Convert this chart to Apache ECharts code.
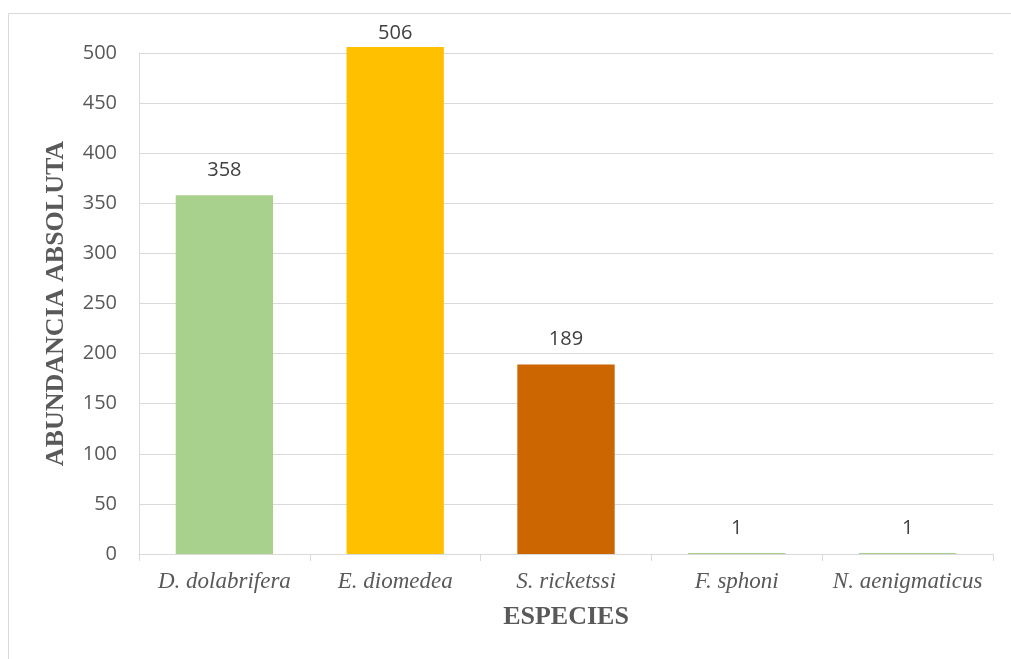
<!DOCTYPE html>
<html>
<head>
<meta charset="utf-8">
<title>Abundancia absoluta por especie</title>
<script src="https://cdn.jsdelivr.net/npm/echarts@6/dist/echarts.min.js"></script>
<style>
  html, body { margin: 0; padding: 0; background: #ffffff; }
  #chart { width: 1011px; height: 659px; }
</style>
</head>
<body>
<div id="chart"></div>
<script>
// Species sampled and their absolute counts
const species = ['D. dolabrifera', 'E. diomedea', 'S. ricketssi', 'F. sphoni', 'N. aenigmaticus'];
const abundance = [358, 506, 189, 1, 1];
const barColors = ['#A9D18E', '#FFC000', '#CC6600', '#A9D18E', '#A9D18E'];

const yMin = 0;
const yMax = 500;
const yStep = 50;

const axisGrey = '#d9d9d9';
const textGrey = '#595959';
const sansFont = '"Open Sans", "Noto Sans", sans-serif';
const serifFont = '"Liberation Serif", "DejaVu Serif", serif';

const chart = echarts.init(document.getElementById('chart'), null, { renderer: 'canvas' });

const seriesData = abundance.map((v, i) => ({
  value: v,
  itemStyle: { color: barColors[i] },
  // labels above the axis maximum are tucked in closer to the bar top
  label: { distance: v > yMax ? 4 : 15 }
}));

chart.setOption({
  backgroundColor: '#ffffff',
  animation: false,
  graphic: [{
    type: 'rect',
    shape: { x: 8.5, y: 13.5, width: 1200, height: 1000 },
    style: { fill: 'none', stroke: axisGrey, lineWidth: 1 },
    silent: true,
    z: -1
  }],
  grid: { left: 139, right: 18, top: 53, bottom: 105, containLabel: false },
  xAxis: {
    type: 'category',
    data: species,
    name: 'ESPECIES',
    nameLocation: 'middle',
    nameGap: 50,
    nameTextStyle: { fontFamily: serifFont, fontWeight: 'bold', fontSize: 26, color: textGrey },
    axisLine: { show: true, lineStyle: { color: axisGrey, width: 1 } },
    axisTick: { show: true, alignWithLabel: false, length: 7, lineStyle: { color: axisGrey } },
    axisLabel: { interval: 0, fontFamily: serifFont, fontStyle: 'italic', fontSize: 23, color: textGrey, margin: 16 },
    splitLine: { show: false }
  },
  yAxis: {
    type: 'value',
    min: yMin,
    max: yMax,
    interval: yStep,
    name: 'ABUNDANCIA ABSOLUTA',
    nameLocation: 'middle',
    nameRotate: 90,
    nameGap: 70,
    nameTextStyle: { fontFamily: serifFont, fontWeight: 'bold', fontSize: 26, color: textGrey },
    axisLine: { show: true, lineStyle: { color: axisGrey, width: 1 } },
    axisTick: { show: false },
    axisLabel: { fontFamily: sansFont, fontSize: 20, color: textGrey, margin: 22 },
    splitLine: { show: true, lineStyle: { color: axisGrey, width: 1 } }
  },
  series: [{
    type: 'bar',
    data: seriesData,
    clip: false,
    barCategoryGap: '43%',
    label: {
      show: true,
      position: 'top',
      fontFamily: sansFont,
      fontSize: 20,
      color: '#404040'
    }
  }]
});
</script>
</body>
</html>
